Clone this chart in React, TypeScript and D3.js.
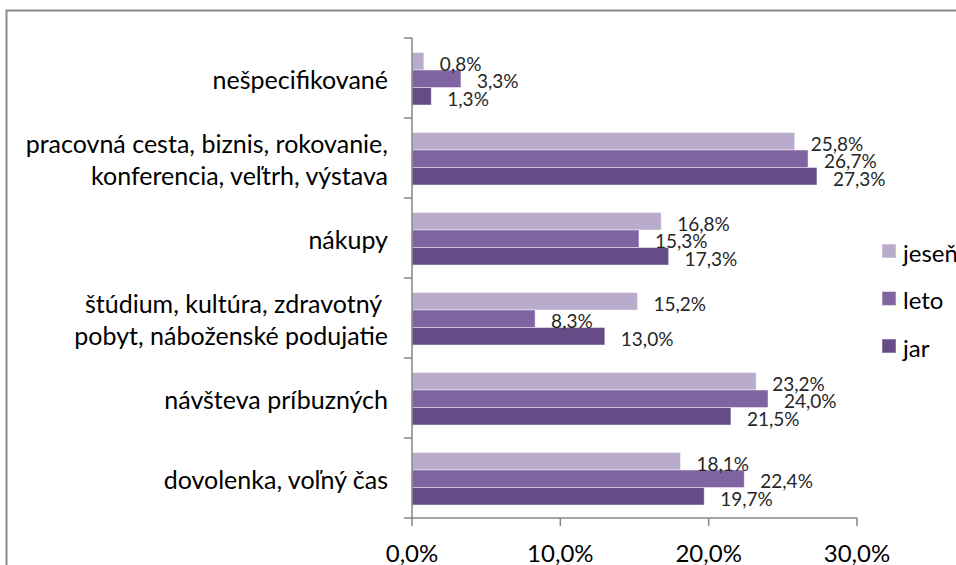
import React from 'react';
import * as d3 from 'd3';

const categories = [
  ['nešpecifikované'],
  ['pracovná cesta, biznis, rokovanie,', 'konferencia, veľtrh, výstava'],
  ['nákupy'],
  ['štúdium, kultúra, zdravotný ', 'pobyt, náboženské podujatie'],
  ['návšteva príbuzných'],
  ['dovolenka, voľný čas'],
];
const seriesNames = ['jeseň', 'leto', 'jar'];
const jesen = [0.8, 25.8, 16.8, 15.2, 23.2, 18.1];
const leto = [3.3, 26.7, 15.3, 8.3, 24.0, 22.4];
const jar = [1.3, 27.3, 17.3, 13.0, 21.5, 19.7];
const xTicks = [0, 10, 20, 30];
const colors = ['#B8ABCB', '#8064A2', '#664C86'];

const W = 956;
const H = 565;
const font = 'Lato, "Open Sans", sans-serif';
const fmt = (v: number) => v.toFixed(1).replace('.', ',') + '%';

const App = () => {
  const series = [jesen, leto, jar];
  const x = d3.scaleLinear().domain([0, 30]).range([412, 857]);
  const y = d3.scaleBand<number>().domain(d3.range(categories.length)).range([38, 518]).padding(0);
  const sub = d3.scaleBand<number>().domain([0, 1, 2]).range([14.5, 67]).padding(0);
  const bw = y.bandwidth();
  const boundaries = d3.range(categories.length + 1).map(i => 38 + i * bw);

  return (
    <svg width={W} height={H} style={{ position: 'absolute', left: 0, top: 0, background: '#fff' }}>
      <rect x={6.5} y={10.5} width={W + 20} height={H + 20} fill="#fff" stroke="#8a8a8a" strokeWidth={2} />
      {/* bars */}
      {categories.map((c, ci) => (
        <g key={ci} transform={`translate(0,${y(ci)})`}>
          {series.map((s, si) => (
            <rect key={si} x={x(0)} y={sub(si)} width={x(s[ci]) - x(0)} height={sub.bandwidth()}
              fill={colors[si]} stroke="rgba(255,255,255,0.45)" strokeWidth={1} />
          ))}
          {series.map((s, si) => (
            <text key={'l' + si} x={x(s[ci]) + 16} y={sub(si)! + sub.bandwidth() / 2 + 2}
              dominantBaseline="central" fontFamily={font} fontSize={19} fill="#262626">{fmt(s[ci])}</text>
          ))}
          {c.map((line, li) => (
            <text key={'c' + li} x={388} y={bw / 2 + (li - (c.length - 1) / 2) * 32 + 1}
              textAnchor="end" dominantBaseline="central" fontFamily={font} fontSize={25} fill="#000"
              style={{ whiteSpace: 'pre' }}>{line}</text>
          ))}
        </g>
      ))}
      {/* y axis */}
      <line x1={412} x2={412} y1={38} y2={518} stroke="#868686" strokeWidth={1.5} />
      {boundaries.map((b, i) => (
        <line key={i} x1={404} x2={412} y1={b} y2={b} stroke="#868686" strokeWidth={1.5} />
      ))}
      {/* x axis */}
      <line x1={412} x2={x(30)} y1={518} y2={518} stroke="#868686" strokeWidth={1.5} />
      {xTicks.map(t => (
        <g key={t}>
          <line x1={x(t)} x2={x(t)} y1={518} y2={526} stroke="#868686" strokeWidth={1.5} />
          <text x={x(t)} y={552} textAnchor="middle" dominantBaseline="central" fontFamily={font}
            fontSize={24} fill="#000">{fmt(t)}</text>
        </g>
      ))}
      {/* legend */}
      {seriesNames.map((n, i) => (
        <g key={n} transform={`translate(882,${251 + i * 47.5})`}>
          <rect x={0} y={-7} width={14} height={14} fill={colors[i]} stroke="rgba(255,255,255,0.5)" />
          <text x={21} y={1} dominantBaseline="central" fontFamily={font} fontSize={24} fill="#000">{n}</text>
        </g>
      ))}
    </svg>
  );
};

export default App;
